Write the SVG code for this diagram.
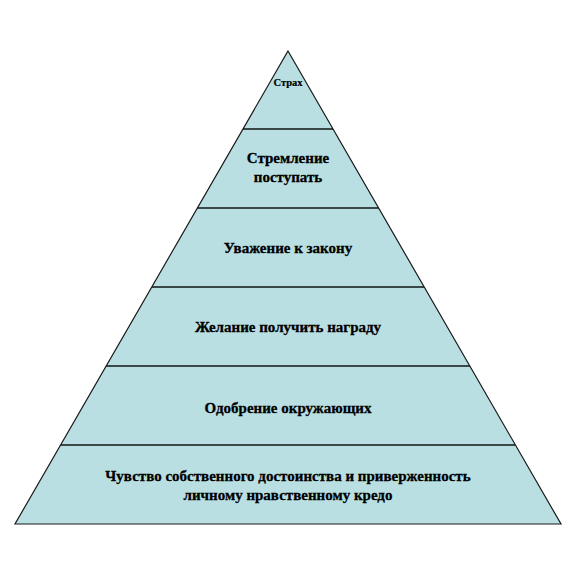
<svg xmlns="http://www.w3.org/2000/svg" width="576" height="576" viewBox="0 0 576 576">
<style>
.tier{fill:#B9DFE2;stroke:none}
.sep{stroke:#3A4848;stroke-width:2}
.edge{stroke:#1a1a1a;stroke-width:1.2;fill:none}
text{font-family:"Liberation Serif","Times New Roman",serif;font-weight:bold;fill:#000;stroke:#000;stroke-width:0.3;text-anchor:middle;font-size:15px}
</style>
<rect width="576" height="576" fill="#fff"/>
<g id="tier1"><polygon class="tier" points="288,51 243,129 333,129"/><text x="288" y="86" style="font-size:10.5px;stroke-width:0.2">Страх</text></g>
<g id="tier2"><polygon class="tier" points="243,129 333,129 379,208 197,208"/><text x="288" y="163">Стремление</text><text x="288" y="182">поступать</text></g>
<g id="tier3"><polygon class="tier" points="197,208 379,208 424,287 152,287"/><text x="288" y="253">Уважение к закону</text></g>
<g id="tier4"><polygon class="tier" points="152,287 424,287 470,366 106,366"/><text x="288" y="332">Желание получить награду</text></g>
<g id="tier5"><polygon class="tier" points="106,366 470,366 515,445 61,445"/><text x="288" y="413">Одобрение окружающих</text></g>
<g id="tier6"><polygon class="tier" points="61,445 515,445 561,524 15,524"/><text x="288" y="481">Чувство  собственного достоинства и приверженность</text><text x="288" y="500">личному нравственному кредо</text></g>
<g id="connectors">
<line class="sep" x1="243" y1="129" x2="333" y2="129"/>
<line class="sep" x1="197" y1="208" x2="379" y2="208"/>
<line class="sep" x1="152" y1="287" x2="424" y2="287"/>
<line class="sep" x1="106" y1="366" x2="470" y2="366"/>
<line class="sep" x1="61" y1="445" x2="515" y2="445"/>
<polygon class="edge" points="288,51 561,524 15,524"/>
</g>
</svg>
